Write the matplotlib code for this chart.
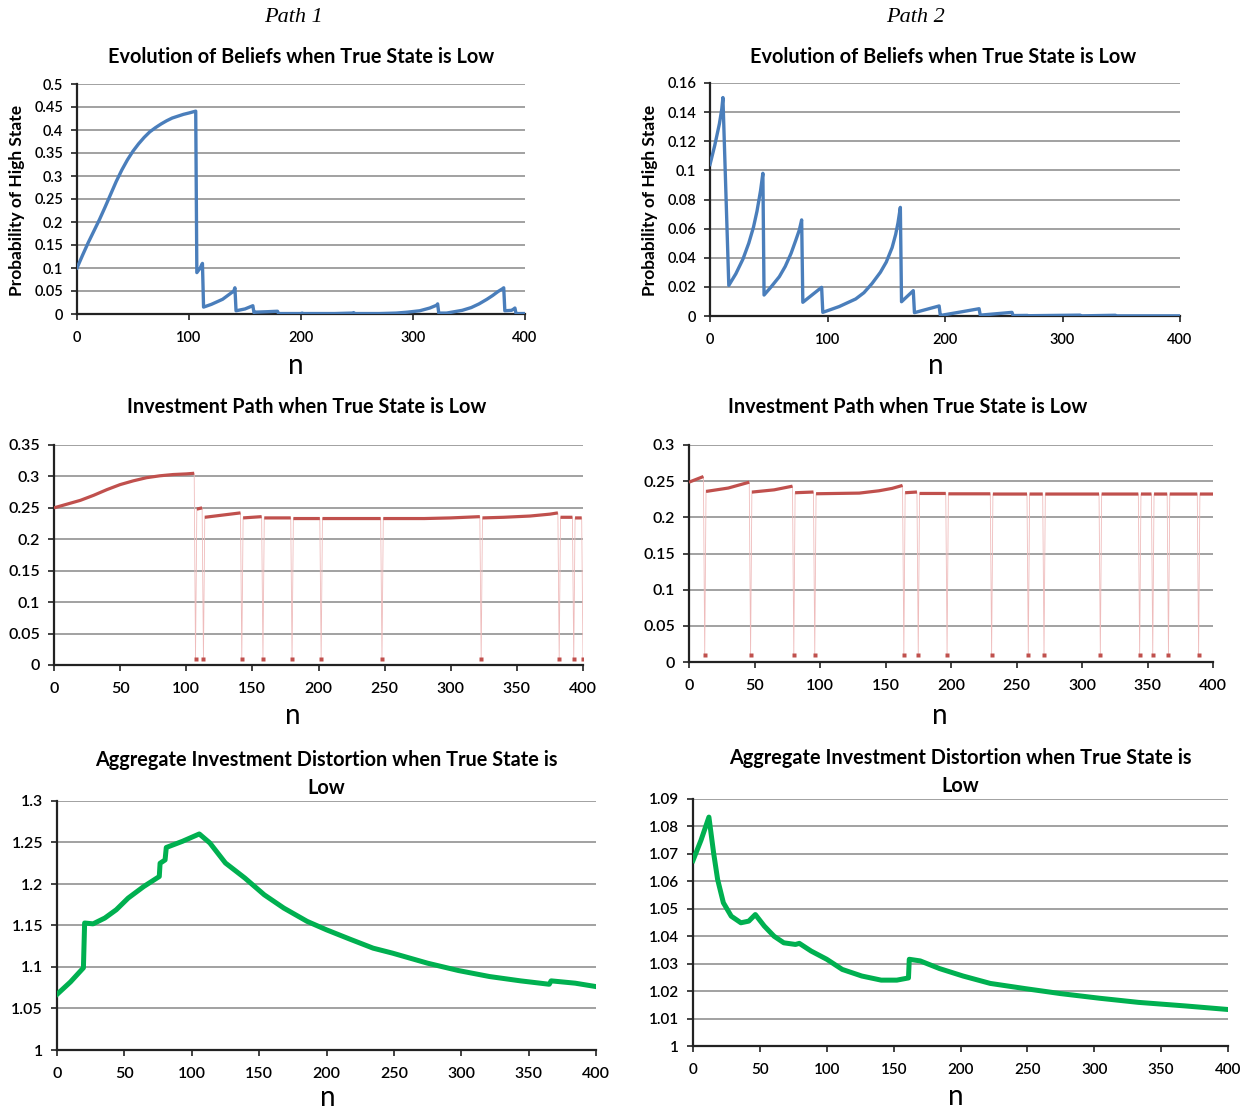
import numpy as np
import matplotlib
matplotlib.use("Agg")
import matplotlib.pyplot as plt
from matplotlib.ticker import MultipleLocator, FuncFormatter

# ---- data ----
# Path 1 beliefs (probability of high state)
belief1_n = [0, 5, 10, 15, 20, 25, 30, 35, 40, 45, 50, 55, 60, 65, 70, 75, 80, 85, 90, 95, 100, 106,
             107, 110, 112, 113, 120, 130, 140, 141, 142, 150, 157, 158, 159, 170, 179, 180,
             200, 201, 202, 230, 246, 247, 248, 270, 285, 295, 306, 315, 321, 322, 323,
             330, 344, 352, 359, 366, 371, 376, 380, 381, 382, 388, 390, 391, 392, 400]
belief1_p = [0.100, 0.128, 0.155, 0.180, 0.205, 0.232, 0.260, 0.288, 0.313, 0.335, 0.354, 0.370, 0.384, 0.396, 0.405, 0.413, 0.420, 0.426, 0.430, 0.434, 0.437, 0.441,
             0.090, 0.100, 0.110, 0.015, 0.021, 0.032, 0.050, 0.057, 0.007, 0.011, 0.018, 0.003, 0.004, 0.005, 0.006, 0.001,
             0.001, 0.002, 0.001, 0.001, 0.002, 0.003, 0.001, 0.001, 0.002, 0.004, 0.007, 0.013, 0.019, 0.022, 0.002,
             0.002, 0.008, 0.014, 0.022, 0.032, 0.040, 0.049, 0.055, 0.057, 0.007, 0.008, 0.011, 0.013, 0.001, 0.001]

# Path 2 beliefs
belief2_n = [0, 4, 8, 10, 11, 16, 22, 28, 33, 37, 40, 43, 45, 46, 52, 59, 64, 69, 73, 76, 78, 79,
             95, 96, 110, 124, 131, 138, 145, 150, 155, 158, 160, 162, 163, 173, 174, 195, 196, 197,
             215, 229, 230, 250, 257, 258, 270, 271, 315, 316, 345, 346, 400]
belief2_p = [0.104, 0.117, 0.132, 0.142, 0.150, 0.021, 0.029, 0.039, 0.050, 0.061, 0.072, 0.086, 0.098, 0.0144, 0.020, 0.027, 0.034, 0.043, 0.052, 0.059, 0.066, 0.0094,
             0.0197, 0.0025, 0.0065, 0.0117, 0.016, 0.0224, 0.030, 0.037, 0.047, 0.056, 0.064, 0.0746, 0.0098, 0.0174, 0.0023, 0.0069, 0.0005, 0.0005,
             0.003, 0.005, 0.0006, 0.002, 0.0025, 0.0003, 0.0004, 0.0002, 0.0006, 0.0001, 0.0005, 0.0001, 0.0001]

# Path 1 investment (0.01 at the periods where investment collapses)
invest1_n = [0, 10, 20, 30, 40, 50, 60, 70, 80, 90, 100, 106,
             107, 108, 112, 113, 114, 141, 142, 143, 157, 158, 159, 179, 180, 181, 201, 202, 203,
             247, 248, 249, 280, 300, 322, 323, 324, 340, 360, 375, 381, 382, 383, 392, 393, 394, 399, 400]
invest1_v = [0.250, 0.256, 0.262, 0.270, 0.279, 0.287, 0.293, 0.298, 0.301, 0.303, 0.304, 0.305,
             0.01, 0.248, 0.250, 0.01, 0.235, 0.242, 0.01, 0.234, 0.236, 0.01, 0.234, 0.234, 0.01, 0.233, 0.233, 0.01, 0.233,
             0.233, 0.01, 0.233, 0.233, 0.234, 0.236, 0.01, 0.234, 0.235, 0.237, 0.240, 0.242, 0.01, 0.235, 0.235, 0.01, 0.234, 0.234, 0.01]

# Path 2 investment
invest2_n = [0, 11, 12, 13, 30, 46, 47, 48, 65, 79, 80, 81, 95, 96, 97, 130, 145, 155, 163, 164, 165, 174, 175, 176,
             196, 197, 198, 230, 231, 232, 258, 259, 260, 270, 271, 272, 313, 314, 315, 343, 344, 345,
             353, 354, 355, 365, 366, 367, 388, 389, 390, 400]
invest2_v = [0.2486, 0.2564, 0.01, 0.2358, 0.2405, 0.2486, 0.01, 0.2349, 0.238, 0.2431, 0.01, 0.234, 0.235, 0.01, 0.2326, 0.2335, 0.2367, 0.240, 0.2441, 0.01, 0.234, 0.235, 0.01, 0.233,
             0.233, 0.01, 0.2325, 0.2325, 0.01, 0.2322, 0.2322, 0.01, 0.2322, 0.2322, 0.01, 0.2322, 0.2322, 0.01, 0.2322, 0.2322, 0.01, 0.2322,
             0.2322, 0.01, 0.2322, 0.2322, 0.01, 0.2322, 0.2322, 0.01, 0.2322, 0.2322]

# Aggregate investment distortion
distort1_n = [0, 10, 19.6, 20.5, 26.8, 35.5, 44, 52.8, 64.4, 75.9, 76.5, 80.2, 81.1, 93.2, 105.6, 113.4, 125, 139.4,
              153.8, 168.3, 185.6, 200, 217.3, 234.6, 249, 275, 298, 321, 344, 365.3, 366.7, 384.6, 400]
distort1_v = [1.067, 1.082, 1.099, 1.153, 1.152, 1.159, 1.169, 1.183, 1.197, 1.209, 1.225, 1.229, 1.244, 1.2515, 1.2603, 1.2495, 1.2253, 1.2072,
              1.187, 1.171, 1.155, 1.1448, 1.1336, 1.1227, 1.1167, 1.1046, 1.0957, 1.0885, 1.0833, 1.0792, 1.0833, 1.0805, 1.0764]

distort2_n = [0, 6, 11.9, 15.4, 18.4, 22.7, 28.6, 35.8, 41.7, 46.6, 53.3, 60.6, 67.9, 76.6, 79.5, 88.3, 100, 111.6,
              126.2, 140.7, 152.4, 161.1, 161.7, 169.9, 184.4, 201.9, 222.3, 248.5, 274.7, 304, 333, 368, 400]
distort2_v = [1.0676, 1.075, 1.0834, 1.0704, 1.0607, 1.0522, 1.0473, 1.0449, 1.0455, 1.0479, 1.0437, 1.040, 1.0376, 1.037, 1.0374, 1.0346, 1.0316, 1.0279,
              1.0255, 1.024, 1.024, 1.0248, 1.0316, 1.031, 1.0282, 1.0255, 1.0228, 1.0209, 1.0191, 1.0174, 1.0159, 1.0146, 1.0133]

title_belief = "Evolution of Beliefs when True State is Low"
title_invest = "Investment Path when True State is Low"
title_distort = "Aggregate Investment Distortion when True State is\nLow"

BLUE = "#4a7ebb"
RED = "#c0504d"
GREEN = "#00b050"
FONT = ["Lato", "DejaVu Sans"]

W, H = 1253, 1110
fig = plt.figure(figsize=(W / 100, H / 100), dpi=100)


def box(x0, y0, x1, y1):
    # pixel box -> figure fraction rect
    return [x0 / W, 1 - y1 / H, (x1 - x0) / W, (y1 - y0) / H]


def ftext(x, y, s, **kw):
    fig.text(x / W, 1 - y / H, s, ha="center", va="center", **kw)


def style_axes(ax, ymax, ystep, ymin, xstep, tsize):
    ax.set_xlim(0, 400)
    ax.set_ylim(ymin, ymax)
    ax.yaxis.set_major_locator(MultipleLocator(ystep))
    ax.xaxis.set_major_locator(MultipleLocator(xstep))
    ax.yaxis.set_major_formatter(FuncFormatter(lambda v, p: f"{round(v, 4):g}"))
    ax.grid(axis="y", color="#9a9a9a", lw=1.3)
    ax.set_axisbelow(True)
    for s in ["top", "right"]:
        ax.spines[s].set_visible(False)
    for s in ["left", "bottom"]:
        ax.spines[s].set_color("#222222")
        ax.spines[s].set_linewidth(1.6)
    ax.tick_params(axis="both", length=4, width=1.2, color="#222222", labelsize=tsize)
    ax.tick_params(axis="y", pad=6)
    ax.tick_params(axis="x", pad=8)
    for lab in ax.get_xticklabels() + ax.get_yticklabels():
        lab.set_family(FONT)
        lab.set_fontweight("semibold")


def investment(ax, n, v):
    n = np.array(n, dtype=float)
    v = np.array(v, dtype=float)
    dip = v < 0.05
    ax.plot(n, v, color="#efbcbc", lw=0.6, zorder=3)
    ax.plot(n, np.where(dip, np.nan, v), color=RED, lw=2.3, zorder=4, solid_capstyle="butt")
    ax.plot(n[dip], v[dip], ls="none", marker="s", ms=2.6, color=RED, mec="none", zorder=4)


# Panel 1
ax1 = fig.add_axes(box(77, 84, 525, 314))
ax1.plot(belief1_n, belief1_p, color=BLUE, lw=2.4, zorder=3)
style_axes(ax1, 0.5, 0.05, 0, 100, 10.5)

# Panel 2
ax2 = fig.add_axes(box(710, 83, 1180, 316))
ax2.plot(belief2_n, belief2_p, color=BLUE, lw=2.4, zorder=3)
style_axes(ax2, 0.16, 0.02, 0, 100, 10.5)

# Panel 3
ax3 = fig.add_axes(box(54, 445, 583, 665))
investment(ax3, invest1_n, invest1_v)
style_axes(ax3, 0.35, 0.05, 0, 50, 11.5)

# Panel 4
ax4 = fig.add_axes(box(689, 445, 1213, 662))
investment(ax4, invest2_n, invest2_v)
style_axes(ax4, 0.3, 0.05, 0, 50, 11.5)

# Panel 5
ax5 = fig.add_axes(box(57, 801, 596, 1050))
ax5.plot(distort1_n, distort1_v, color=GREEN, lw=3.6, zorder=3)
style_axes(ax5, 1.3, 0.05, 1.0, 50, 11.5)

# Panel 6
ax6 = fig.add_axes(box(693, 799, 1228, 1046))
ax6.plot(distort2_n, distort2_v, color=GREEN, lw=3.6, zorder=3)
style_axes(ax6, 1.09, 0.01, 1.0, 50, 11)

# headings
ftext(293, 17, "Path 1", family="Liberation Serif", style="italic", fontsize=16)
ftext(915, 17, "Path 2", family="Liberation Serif", style="italic", fontsize=16)

tkw = dict(family=FONT, fontweight="bold", fontsize=14.3)
ftext(301, 57, title_belief, **tkw)
ftext(943, 57, title_belief, **tkw)
ftext(307, 407, title_invest, **tkw)
ftext(908, 407, title_invest, **tkw)
ftext(326, 774, title_distort, linespacing=1.55, **tkw)
ftext(960, 772, title_distort, linespacing=1.55, **tkw)

ykw = dict(family=FONT, fontweight="bold", fontsize=12.5, rotation=90)
ftext(17, 200, "Probability of High State", **ykw)
ftext(650, 200, "Probability of High State", **ykw)

nkw = dict(family=FONT, fontsize=20)
for x, y in [(296, 366), (936, 366), (293, 716), (940, 716), (328, 1098), (956, 1097)]:
    ftext(x, y, "n", **nkw)

fig.savefig("out.png", dpi=100)
